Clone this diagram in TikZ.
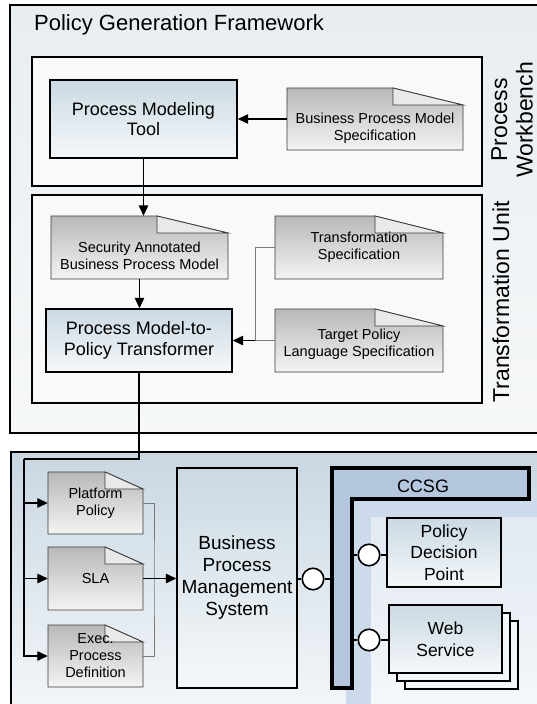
\documentclass[tikz,border=0pt]{standalone}
\usepackage{fontspec}
\setmainfont{Liberation Sans}
\usetikzlibrary{arrows.meta,calc}

% palette
\definecolor{frameTop}{HTML}{E8EDF0}
\definecolor{frameBot}{HTML}{F6F8F9}
\definecolor{paneFill}{HTML}{F8F9FA}
\definecolor{boxTop}{HTML}{CBD9E3}
\definecolor{boxBot}{HTML}{F5F8FA}
\definecolor{docTop}{HTML}{B8B8B8}
\definecolor{docBot}{HTML}{F4F4F4}
\definecolor{docFlap}{HTML}{E9E9E9}
\definecolor{docLine}{HTML}{3A3A3A}
\definecolor{runTop}{HTML}{C9D7E2}
\definecolor{runBot}{HTML}{F8FAFC}
\definecolor{ccsgFill}{HTML}{B5C7DF}
\definecolor{bandFill}{HTML}{CCDAEB}
\definecolor{innerTop}{HTML}{E1E9F2}
\definecolor{innerBot}{HTML}{F6F8FB}
\definecolor{wireGray}{HTML}{7A7A7A}

\tikzset{
  outerframe/.style={draw=black, line width=2pt},
  panebox/.style={draw=black, line width=2.2pt, fill=paneFill},
  toolbox/.style={draw=black, line width=1.4pt, top color=boxTop, bottom color=boxBot,
                  inner sep=0pt, align=center},
  docface/.style={draw=docLine, line width=0.8pt, top color=docTop, bottom color=docBot},
  docflap/.style={draw=docLine, line width=0.8pt, fill=docFlap},
  docbox/.style={inner sep=0pt},
  doctext/.style={inner sep=0pt, align=center, font=\fontsize{14.5}{17}\selectfont},
  portc/.style={circle, draw=black, line width=1.6pt, fill=white, minimum size=21.5pt, inner sep=0pt},
  arrowline/.style={-{Triangle[length=10.5pt,width=9.5pt]}, line width=1.2pt},
  wire/.style={line width=1.2pt},
  graywire/.style={draw=wireGray, line width=1pt},
  stackbox/.style={draw=black, line width=1.4pt, fill=boxBot},
  ccsgbar/.style={draw=black, line width=3.5pt, fill=ccsgFill, line join=miter},
}

% document icon with a folded corner:
% #1 name, #2 x1, #3 y1, #4 x2, #5 y2, #6 fold width, #7 text drop, #8 text
\newcommand\docnode[8]{%
  \path[docface] (#2,#3) -- (#4-#6,#3) -- (#4,#3+17) -- (#4,#5) -- (#2,#5) -- cycle;
  \path[docflap] (#4-#6,#3) -- (#4-#6,#3+17) -- (#4,#3+17) -- cycle;
  \node[docbox, minimum width=#4-#2, minimum height=#5-#3] (#1) at ({(#2+#4)/2},{(#3+#5)/2}) {};
  \node[doctext] (#1-t) at ([yshift=-#7pt]#1.center) {#8};
}

\begin{document}
\begin{tikzpicture}[x=1pt, y=-1pt]
\useasboundingbox (0,0) rectangle (537,704);
\clip (0,0) rectangle (537,704);

% ---------- policy generation framework ----------
\path[outerframe, top color=frameTop, bottom color=frameBot] (10,5) rectangle (560,433);
\node[anchor=base west, inner sep=0pt, font=\fontsize{22}{25}\selectfont] (title) at (34,30) {Policy Generation Framework};

% process workbench
\path[panebox] (32,57) rectangle (482,186);
\node[rotate=90, align=center, font=\fontsize{23}{25.5}\selectfont] (pwl) at (512,120) {Process\\Workbench};
\node[toolbox, minimum width=187pt, minimum height=78pt, font=\fontsize{18}{20.5}\selectfont]
  (pmt) at (143.5,119) {Process Modeling\\Tool};
\docnode{bspec}{287}{88}{463}{150}{70}{9}{Business Process Model\\Specification}

% transformation unit
\path[panebox] (32,195) rectangle (482,403);
\node[rotate=90, font=\fontsize{23}{25}\selectfont] (tul) at (501,302) {Transformation Unit};
\docnode{sec}{51}{216}{228}{279}{71}{8}{Security Annotated\\Business Process Model}
\docnode{ts}{275}{216}{443}{279}{68}{0}{Transformation\\Specification}
\docnode{tp}{275}{309}{443}{372}{68}{4}{Target Policy\\Language Specification}
\node[toolbox, minimum width=186pt, minimum height=63pt, font=\fontsize{18}{21.5}\selectfont]
  (tr) at (139,340.5) {Process Model-to-\\Policy Transformer};

% ---------- runtime environment ----------
\path[outerframe, top color=runTop, bottom color=runBot] (11,452) rectangle (560,740);

% nested panes behind the gateway
\fill[bandFill] (346,499) rectangle (560,720);
\fill[top color=innerTop, bottom color=innerBot] (371,517) rectangle (560,720);

\docnode{pp}{48}{472}{143}{534}{38}{0}{Platform\\Policy}
\docnode{sla}{48}{547}{143}{610}{38}{0}{SLA}
\docnode{exec}{48}{625}{143}{687}{38}{0}{Exec.\\Process\\Definition}

\node[toolbox, minimum width=120pt, minimum height=220pt, font=\fontsize{19}{22}\selectfont]
  (bpms) at (237,578) {Business\\Process\\Management\\System};

% gateway
\path[ccsgbar] (332,468) -- (529,468) -- (529,499) -- (352,499) -- (352,688) -- (332,688) -- cycle;
\node[font=\fontsize{18}{20}\selectfont, inner sep=0pt] (ccsg) at (423,486) {CCSG};
\coordinate (gwOuter) at (332,579);
\coordinate (gwPdp) at (352,555);
\coordinate (gwWs) at (352,640);

\node[toolbox, minimum width=114pt, minimum height=69pt, font=\fontsize{17.5}{21.5}\selectfont]
  (pdp) at (444,552.5) {Policy\\Decision\\Point};

\path[stackbox] (405,621) rectangle (518,689);
\path[stackbox] (397,613) rectangle (510,681);
\node[toolbox, minimum width=113pt, minimum height=68pt, font=\fontsize{17.5}{21.5}\selectfont]
  (ws) at (445.5,639) {Web\\Service};

% interface ports
\node[portc] (p1) at (313,579) {};
\node[portc] (p2) at (369,555) {};
\node[portc] (p3) at (369,640) {};

% ---------- connectors ----------
\draw[arrowline] (bspec.west) -- (pmt.east);
\draw[arrowline] (pmt.south) -- (pmt.south |- sec.north);
\draw[arrowline] (sec.south) -- (sec.south |- tr.north);

\coordinate (tj) at (255,340.5);
\draw[graywire] (ts.west) -| (tj);
\draw[graywire] (tp.west) -- (tj);
\draw[arrowline] (tj) -- (tr.east);

\coordinate (bus) at (24,459);
\draw[wire] (tr.south) |- (bus);
\draw[arrowline] (bus) |- (pp.west);
\draw[arrowline] (bus) |- (sla.west);
\draw[arrowline] (bus) |- (exec.west);

\coordinate (merge) at (154,578.5);
\draw[graywire] (pp.east) -| (merge) |- (exec.east);
\draw[arrowline] (sla.east) -- (sla.east -| bpms.west);

\draw[wire] (bpms.east |- p1) -- (p1) -- (gwOuter);
\draw[wire] (gwPdp) -- (p2) -- (p2 -| pdp.west);
\draw[wire] (gwWs) -- (p3) -- (p3 -| ws.west);
\end{tikzpicture}
\end{document}
